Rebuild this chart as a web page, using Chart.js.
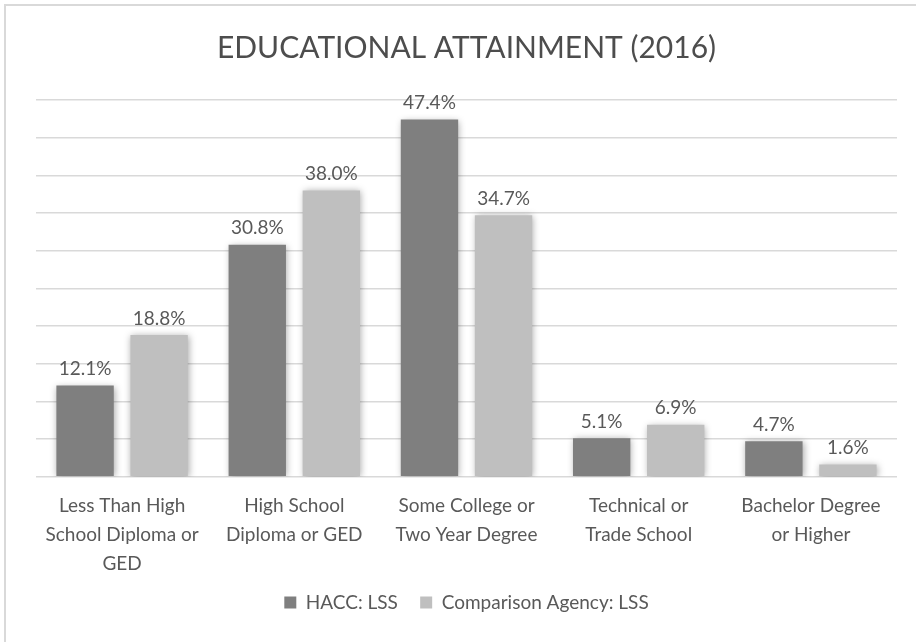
<!DOCTYPE html>
<html>
<head>
<meta charset="utf-8">
<script src="https://cdn.jsdelivr.net/npm/chart.js@4"></script>
<style>
  html, body { margin: 0; padding: 0; background: #fff; }
  #frame {
    position: absolute; left: 4px; top: 4px;
    width: 912px; height: 638px;
    border-top: 2px solid #d9d9d9; border-left: 2px solid #d9d9d9;
  }
  #chart { display: block; }
</style>
</head>
<body>
<div id="frame"><canvas id="chart" width="910" height="636"></canvas></div>
<script>
// Дані з картинки
const categories = [
  ["Less Than High", "School Diploma or", "GED"],
  ["High School", "Diploma or GED"],
  ["Some College or", "Two Year Degree"],
  ["Technical or", "Trade School"],
  ["Bachelor Degree", "or Higher"],
]
const haccValues = [12.1, 30.8, 47.4, 5.1, 4.7]
const comparisonValues = [18.8, 38.0, 34.7, 6.9, 1.6]
const seriesNames = ["HACC: LSS", "Comparison Agency: LSS"]

const textColor = "#595959"
const fontFamily = "Lato, 'Open Sans', sans-serif"

// Тінь під стовпчиками
const shadowPlugin = {
  id: "barShadow",
  beforeDatasetDraw(chart) {
    const ctx = chart.ctx
    ctx.save()
    ctx.shadowColor = "rgba(0,0,0,0.35)"
    ctx.shadowBlur = 7
    ctx.shadowOffsetX = 1
    ctx.shadowOffsetY = 1
  },
  afterDatasetDraw(chart) {
    chart.ctx.restore()
  },
}

// Підписи значень над стовпчиками
const valueLabels = {
  id: "valueLabels",
  afterDatasetsDraw(chart) {
    const ctx = chart.ctx
    ctx.save()
    ctx.font = "19px " + fontFamily
    ctx.fillStyle = textColor
    ctx.textAlign = "center"
    ctx.textBaseline = "bottom"
    chart.data.datasets.forEach((ds, i) => {
      chart.getDatasetMeta(i).data.forEach((bar, j) => {
        ctx.fillText(ds.data[j].toFixed(1) + "%", bar.x, bar.y - 7)
      })
    })
    ctx.restore()
  },
}

new Chart(document.getElementById("chart"), {
  type: "bar",
  data: {
    labels: categories,
    datasets: [
      { label: seriesNames[0], data: haccValues, backgroundColor: "#7f7f7f" },
      { label: seriesNames[1], data: comparisonValues, backgroundColor: "#bfbfbf" },
    ],
  },
  options: {
    responsive: false,
    animation: false,
    layout: { padding: { left: 30, right: 19, top: 14, bottom: 20 } },
    datasets: { bar: { categoryPercentage: 0.86, barPercentage: 0.775 } },
    plugins: {
      title: {
        display: true,
        text: "EDUCATIONAL ATTAINMENT (2016)",
        color: "#4d4d4d",
        font: { family: fontFamily, size: 30, weight: "normal" },
        padding: { top: 10, bottom: 34 },
      },
      legend: {
        position: "bottom",
        labels: {
          color: textColor,
          font: { family: fontFamily, size: 19 },
          boxWidth: 12,
          boxHeight: 12,
          padding: 8,
          // більший проміжок між елементами легенди
          generateLabels(chart) {
            const items = Chart.defaults.plugins.legend.labels.generateLabels(chart)
            items.forEach((it, i) => {
              if (i < items.length - 1) it.text = it.text + "\u2003"
            })
            return items
          },
        },
      },
      tooltip: { enabled: false },
    },
    scales: {
      x: {
        grid: { display: false },
        border: { display: false },
        ticks: {
          color: textColor,
          font: { family: fontFamily, size: 19, lineHeight: 1.55 },
          maxRotation: 0,
          padding: 6,
        },
      },
      y: {
        min: 0,
        max: 50,
        ticks: { display: false, stepSize: 5 },
        grid: { color: "#d9d9d9", lineWidth: 1.5, drawTicks: false },
        border: { display: false },
      },
    },
  },
  plugins: [shadowPlugin, valueLabels],
})
</script>
</body>
</html>
